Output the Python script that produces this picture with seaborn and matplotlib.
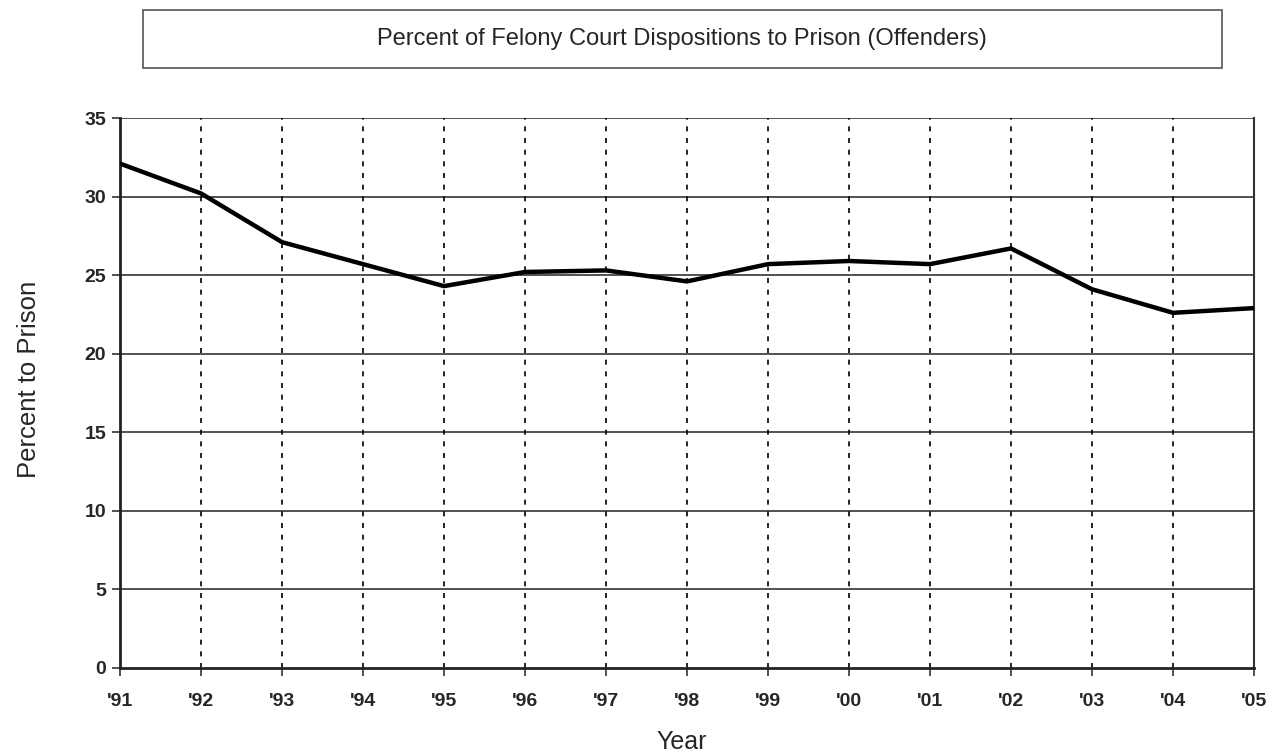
import numpy as np
import pandas as pd
import matplotlib
matplotlib.use("Agg")
import matplotlib.pyplot as plt
from matplotlib.patches import Rectangle
import seaborn as sns

# Data
years = ["'91", "'92", "'93", "'94", "'95", "'96", "'97", "'98",
         "'99", "'00", "'01", "'02", "'03", "'04", "'05"]
pct_prison = [32.1, 30.2, 27.1, 25.7, 24.3, 25.2, 25.3, 24.6,
              25.7, 25.9, 25.7, 26.7, 24.1, 22.6, 22.9]
y_ticks = [0, 5, 10, 15, 20, 25, 30, 35]

df = pd.DataFrame({"Year": years, "Percent": pct_prison})
df["pos"] = np.arange(len(df))

sns.set_style("white")
plt.rcParams["font.family"] = ["Liberation Sans", "DejaVu Sans"]

fig = plt.figure(figsize=(12.77, 7.52), dpi=100)
ax = fig.add_axes([0.094, 0.112, 0.888, 0.731])

sns.lineplot(data=df, x="pos", y="Percent", ax=ax, color="black",
             linewidth=3.2, zorder=5)

ax.set_xlim(0, len(years) - 1)
ax.set_ylim(0, 35)
ax.set_xticks(df["pos"])
ax.set_xticklabels(years, fontsize=14, fontweight="bold")
ax.set_yticks(y_ticks)
ax.set_yticklabels([str(t) for t in y_ticks], fontsize=14, fontweight="bold")

# gridlines: solid horizontal, dotted vertical
for t in y_ticks[1:]:
    ax.axhline(t, color="#333333", linewidth=1.2, zorder=1)
for p in df["pos"][1:]:
    ax.axvline(p, color="black", linewidth=1.2, linestyle=(0, (3, 4)), zorder=1)

for side in ["left", "bottom"]:
    ax.spines[side].set_color("#222222")
    ax.spines[side].set_linewidth(2)
ax.spines["right"].set_color("#333333")
ax.spines["right"].set_linewidth(1.5)
ax.spines["top"].set_visible(False)
ax.tick_params(axis="both", direction="out", length=6, width=1.2,
               color="#333333", bottom=True, left=True)
ax.tick_params(axis="x", pad=12)
ax.tick_params(axis="y", pad=4)

ax.set_xlabel("Year", fontsize=18)
ax.set_ylabel("Percent to Prison", fontsize=18.5)
ax.xaxis.set_label_coords(0.495, -0.114)
ax.yaxis.set_label_coords(-0.07, 0.524)

# boxed title
box = Rectangle((143 / 1277, 1 - 68 / 752), (1222 - 143) / 1277, 58 / 752,
                transform=fig.transFigure, fill=False, edgecolor="#555555",
                linewidth=1.2)
fig.patches.append(box)
fig.text(682 / 1277, 1 - 39 / 752,
         "Percent of Felony Court Dispositions to Prison (Offenders)",
         ha="center", va="center", fontsize=17)

fig.savefig("out.png", dpi=100)
